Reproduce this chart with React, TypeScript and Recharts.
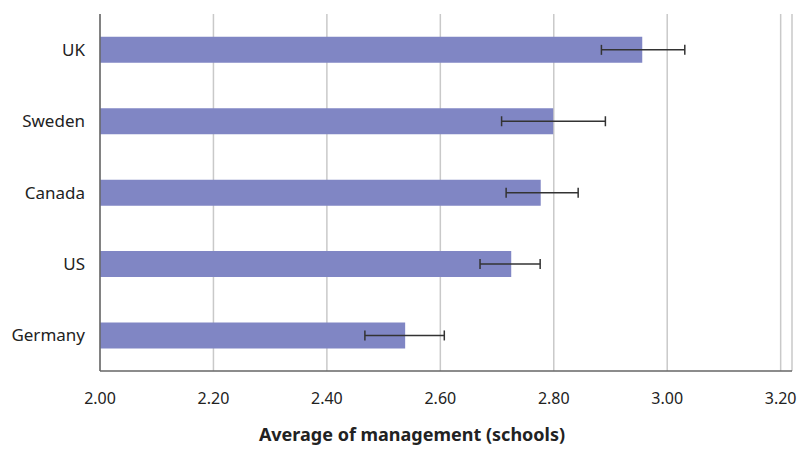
import { BarChart, Bar, XAxis, YAxis, CartesianGrid, ErrorBar } from 'recharts';

const countries = ['UK', 'Sweden', 'Canada', 'US', 'Germany'];
const scores = [2.956, 2.799, 2.777, 2.725, 2.538];
const lowerErr = [0.072, 0.091, 0.061, 0.055, 0.071];
const upperErr = [0.075, 0.092, 0.066, 0.051, 0.069];
const xTicks = [2.0, 2.2, 2.4, 2.6, 2.8, 3.0, 3.2];

const data = countries.map((country, i) => ({
  country,
  score: scores[i],
  err: [lowerErr[i], upperErr[i]],
}));

const font = '"Noto Sans", "Open Sans", sans-serif';

const App = () => {
  return (
    <div style={{ position: 'absolute', left: 0, top: 0, background: '#fff' }}>
      <BarChart
        width={810}
        height={453}
        data={data}
        layout="vertical"
        margin={{ top: 14, right: 18, bottom: 12, left: 0 }}
        barCategoryGap="32%"
      >
        <CartesianGrid horizontal={false} stroke="#c9c9c9" strokeWidth={1.5} />
        <XAxis
          type="number"
          domain={[2, 3.22]}
          ticks={xTicks}
          allowDataOverflow
          tickFormatter={(v: number) => v.toFixed(2)}
          tickLine={false}
          tickSize={0}
          tickMargin={22}
          height={70}
          axisLine={{ stroke: '#666', strokeWidth: 1.5 }}
          tick={{ fill: '#222', fontSize: 16, fontFamily: font }}
          label={{
            value: 'Average of management (schools)',
            position: 'insideBottom',
            offset: 0,
            dx: -34,
            style: { fill: '#222', fontSize: 18, fontWeight: 700, fontFamily: font },
          }}
        />
        <YAxis
          type="category"
          dataKey="country"
          width={100}
          tickLine={false}
          tickSize={0}
          tickMargin={15}
          axisLine={{ stroke: '#666', strokeWidth: 1.5 }}
          tick={{ fill: '#222', fontSize: 17, fontFamily: font }}
        />
        <Bar dataKey="score" fill="#8086c4" isAnimationActive={false}>
          <ErrorBar dataKey="err" direction="x" width={5} stroke="#333" strokeWidth={1.5} />
        </Bar>
      </BarChart>
    </div>
  );
};

export default App;
